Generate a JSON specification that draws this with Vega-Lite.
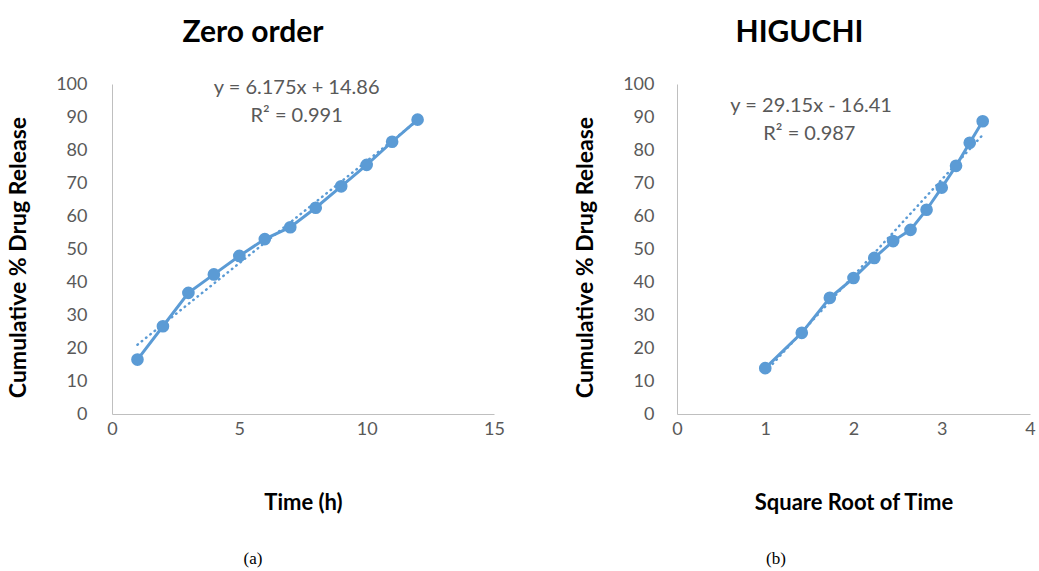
{
  "$schema": "https://vega.github.io/schema/vega-lite/v6.json",
  "background": "white",
  "padding": {"left": 7, "top": 18, "right": 2, "bottom": 2},
  "config": {
    "view": {"stroke": null},
    "font": "Lato",
    "axis": {
      "domainColor": "#BFBFBF",
      "domainWidth": 1,
      "ticks": false,
      "grid": false,
      "labelColor": "#595959",
      "labelFont": "Lato",
      "labelFontSize": 18,
      "labelOverlap": false,
      "labelFlush": false,
      "titleFont": "Lato",
      "titleFontWeight": "bold",
      "titleFontSize": 22,
      "titleColor": "#000000"
    },
    "title": {"font": "Lato", "fontWeight": "bold", "fontSize": 30, "color": "#000000"}
  },
  "datasets": {
    "zero": [
      {"t": 1, "rel": 16.5}, {"t": 2, "rel": 26.6}, {"t": 3, "rel": 36.7}, {"t": 4, "rel": 42.3},
      {"t": 5, "rel": 47.9}, {"t": 6, "rel": 53.0}, {"t": 7, "rel": 56.6}, {"t": 8, "rel": 62.5},
      {"t": 9, "rel": 69.0}, {"t": 10, "rel": 75.5}, {"t": 11, "rel": 82.5}, {"t": 12, "rel": 89.2}
    ],
    "zeroTrend": [{"t": 1, "rel": 21.0}, {"t": 12, "rel": 88.96}],
    "zeroLabel": [
      {"t": 7.25, "rel": 98.8, "txt": "y = 6.175x + 14.86"},
      {"t": 7.25, "rel": 90.3, "txt": "R² = 0.991"}
    ],
    "hig": [
      {"s": 1, "rel": 13.9}, {"s": 1.414, "rel": 24.6}, {"s": 1.732, "rel": 35.2}, {"s": 2, "rel": 41.2},
      {"s": 2.236, "rel": 47.3}, {"s": 2.449, "rel": 52.4}, {"s": 2.646, "rel": 55.8}, {"s": 2.828, "rel": 61.9},
      {"s": 3, "rel": 68.6}, {"s": 3.162, "rel": 75.2}, {"s": 3.317, "rel": 82.2}, {"s": 3.464, "rel": 88.7}
    ],
    "higTrend": [{"s": 1, "rel": 12.74}, {"s": 3.464, "rel": 84.57}],
    "higLabel": [
      {"s": 1.52, "rel": 93.3, "txt": "y = 29.15x - 16.41"},
      {"s": 1.5, "rel": 84.8, "txt": "R² = 0.987"}
    ]
  },
  "spacing": 69,
  "hconcat": [
    {
      "title": {"text": "(a)", "orient": "bottom", "anchor": "middle", "frame": "bounds", "font": "Liberation Serif", "fontWeight": "normal", "fontSize": 17, "offset": 38, "dx": -3},
      "vconcat": [
        {
          "width": 382,
          "height": 330,
          "title": {"text": "Zero order", "anchor": "middle", "offset": 27, "dx": -50},
          "layer": [
            {
              "data": {"name": "zeroTrend"},
              "mark": {"type": "line", "color": "#5B9BD5", "strokeWidth": 2.5, "strokeDash": [0.5, 5], "strokeCap": "round"},
              "encoding": {
                "x": {"field": "t", "type": "quantitative", "scale": {"domain": [0, 15], "nice": false},
                      "axis": {"values": [0, 5, 10, 15], "tickCount": 4, "format": "~g", "labelOverlap": false, "title": "Time (h)", "labelPadding": 6, "titlePadding": 54}},
                "y": {"field": "rel", "type": "quantitative", "scale": {"domain": [0, 100], "nice": false},
                      "axis": {"values": [0, 10, 20, 30, 40, 50, 60, 70, 80, 90, 100], "tickCount": 11, "labelOverlap": false, "title": "Cumulative % Drug Release", "titleFontSize": 23, "titleY": 173, "labelPadding": 25, "titlePadding": 25}}
              }
            },
            {
              "data": {"name": "zero"},
              "mark": {"type": "line", "color": "#5B9BD5", "strokeWidth": 3},
              "encoding": {
                "x": {"field": "t", "type": "quantitative"},
                "y": {"field": "rel", "type": "quantitative"}
              }
            },
            {
              "data": {"name": "zero"},
              "mark": {"type": "point", "filled": true, "shape": "circle", "size": 160, "color": "#5B9BD5", "opacity": 1},
              "encoding": {
                "x": {"field": "t", "type": "quantitative"},
                "y": {"field": "rel", "type": "quantitative"}
              }
            },
            {
              "data": {"name": "zeroLabel"},
              "mark": {"type": "text", "font": "Lato", "fontSize": 20, "color": "#595959", "align": "center", "baseline": "middle"},
              "encoding": {
                "x": {"field": "t", "type": "quantitative"},
                "y": {"field": "rel", "type": "quantitative"},
                "text": {"field": "txt"}
              }
            }
          ]
        }
      ]
    },
    {
      "title": {"text": "(b)", "orient": "bottom", "anchor": "middle", "frame": "bounds", "font": "Liberation Serif", "fontWeight": "normal", "fontSize": 17, "offset": 38, "dx": -29},
      "vconcat": [
        {
          "width": 353,
          "height": 330,
          "title": {"text": "HIGUCHI", "anchor": "middle", "offset": 27, "dx": -54},
          "layer": [
            {
              "data": {"name": "higTrend"},
              "mark": {"type": "line", "color": "#5B9BD5", "strokeWidth": 2.5, "strokeDash": [0.5, 5], "strokeCap": "round"},
              "encoding": {
                "x": {"field": "s", "type": "quantitative", "scale": {"domain": [0, 4], "nice": false},
                      "axis": {"values": [0, 1, 2, 3, 4], "tickCount": 5, "format": "~g", "labelOverlap": false, "title": "Square Root of Time", "labelPadding": 6, "titlePadding": 54}},
                "y": {"field": "rel", "type": "quantitative", "scale": {"domain": [0, 100], "nice": false},
                      "axis": {"values": [0, 10, 20, 30, 40, 50, 60, 70, 80, 90, 100], "tickCount": 11, "labelOverlap": false, "title": "Cumulative % Drug Release", "titleFontSize": 23, "titleY": 173, "labelPadding": 23, "titlePadding": 25}}
              }
            },
            {
              "data": {"name": "hig"},
              "mark": {"type": "line", "color": "#5B9BD5", "strokeWidth": 3},
              "encoding": {
                "x": {"field": "s", "type": "quantitative"},
                "y": {"field": "rel", "type": "quantitative"}
              }
            },
            {
              "data": {"name": "hig"},
              "mark": {"type": "point", "filled": true, "shape": "circle", "size": 160, "color": "#5B9BD5", "opacity": 1},
              "encoding": {
                "x": {"field": "s", "type": "quantitative"},
                "y": {"field": "rel", "type": "quantitative"}
              }
            },
            {
              "data": {"name": "higLabel"},
              "mark": {"type": "text", "font": "Lato", "fontSize": 20, "color": "#595959", "align": "center", "baseline": "middle"},
              "encoding": {
                "x": {"field": "s", "type": "quantitative"},
                "y": {"field": "rel", "type": "quantitative"},
                "text": {"field": "txt"}
              }
            }
          ]
        }
      ]
    }
  ]
}
